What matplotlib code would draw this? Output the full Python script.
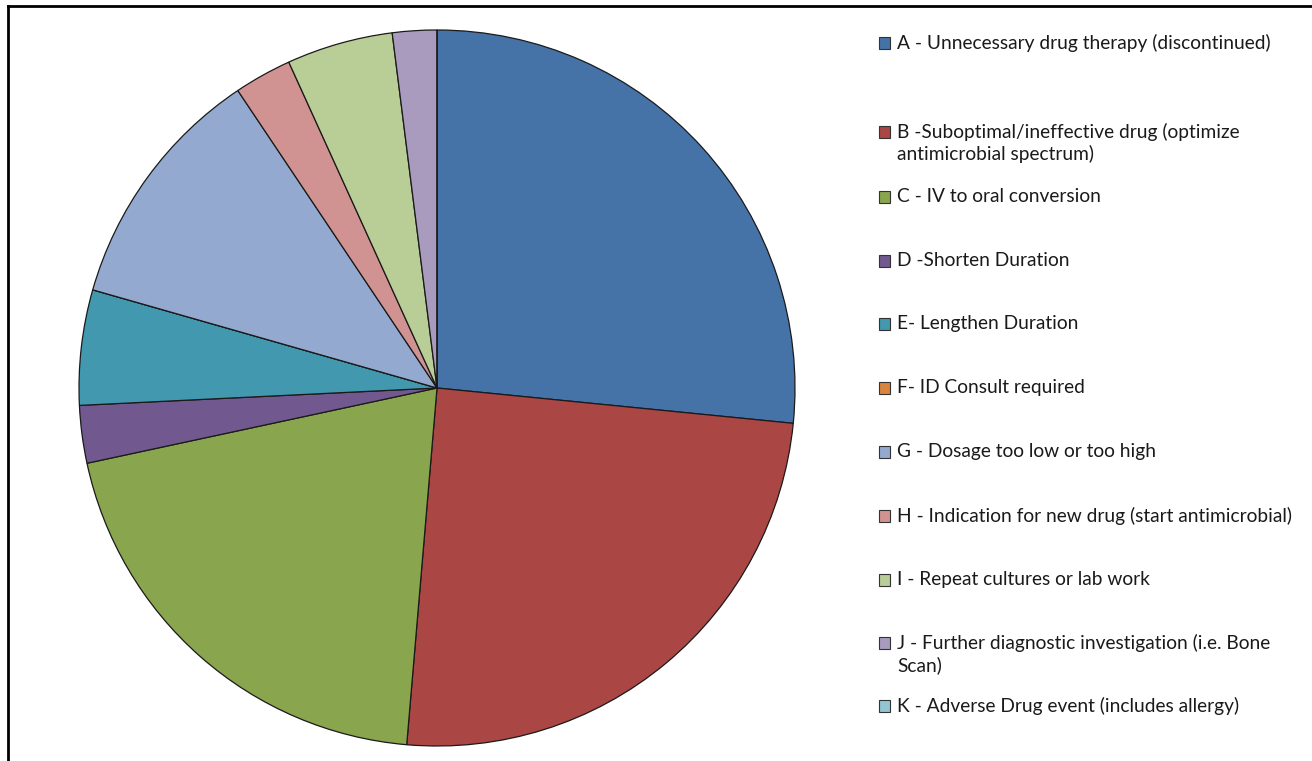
import matplotlib
matplotlib.use("Agg")
import matplotlib.pyplot as plt
from matplotlib.patches import Rectangle
from matplotlib.lines import Line2D

# Intervention types (share of interventions, %)
labels = [
    "A - Unnecessary drug therapy (discontinued)",
    "B -Suboptimal/ineffective drug (optimize\nantimicrobial spectrum)",
    "C - IV to oral conversion",
    "D -Shorten Duration",
    "E- Lengthen Duration",
    "F- ID Consult required",
    "G - Dosage too low or too high",
    "H - Indication for new drug (start antimicrobial)",
    "I - Repeat cultures or lab work",
    "J - Further diagnostic investigation (i.e. Bone\nScan)",
    "K - Adverse Drug event (includes allergy)",
]
shares = [26.6, 24.8, 20.3, 2.6, 5.2, 0.0, 11.2, 2.6, 4.8, 2.0, 0.0]
colors = ["#4572A7", "#AA4643", "#89A54E", "#71588F", "#4198AF", "#DB843D",
          "#93A9CF", "#D19392", "#B9CD96", "#A99BBD", "#92C4D2"]

plt.rcParams['font.family'] = ['Lato', 'DejaVu Sans']

fig = plt.figure(figsize=(13.12, 7.61), dpi=100)
W, H = 1312, 761

# pie centre (437, 388) px, radius 358 px
cx, cy, r = 437, 388, 358
ax = fig.add_axes([(cx - r) / W, 1 - (cy + r) / H, 2 * r / W, 2 * r / H])
ax.pie(shares, colors=colors, startangle=90, counterclock=False, radius=1,
       wedgeprops=dict(edgecolor="#1a1a1a", linewidth=0.9))
ax.set_xlim(-1, 1)
ax.set_ylim(-1, 1)
ax.set_aspect("auto")
ax.axis("off")

# legend drawn by hand to keep Excel-like spacing
ys = [43, 132, 197, 261, 324, 388, 452, 516, 580, 643, 706]
for lab, col, y in zip(labels, colors, ys):
    fig.patches.append(Rectangle((879 / W, 1 - (y + 6) / H), 11 / W, 12 / H,
                                 transform=fig.transFigure, facecolor=col,
                                 edgecolor="#333333", linewidth=0.8))
    fig.text(897 / W, 1 - (y - 9) / H, lab, fontsize=13.8, color="#1a1a1a",
             va="top", ha="left", linespacing=1.25)

# frame of the cropped figure
fig.lines.append(Line2D([8 / W, 1.01], [1 - 6 / H, 1 - 6 / H], transform=fig.transFigure,
                        color="black", linewidth=2))
fig.lines.append(Line2D([8 / W, 8 / W], [1 - 6 / H, -0.01], transform=fig.transFigure,
                        color="black", linewidth=2))

fig.savefig("out.png", dpi=100)
